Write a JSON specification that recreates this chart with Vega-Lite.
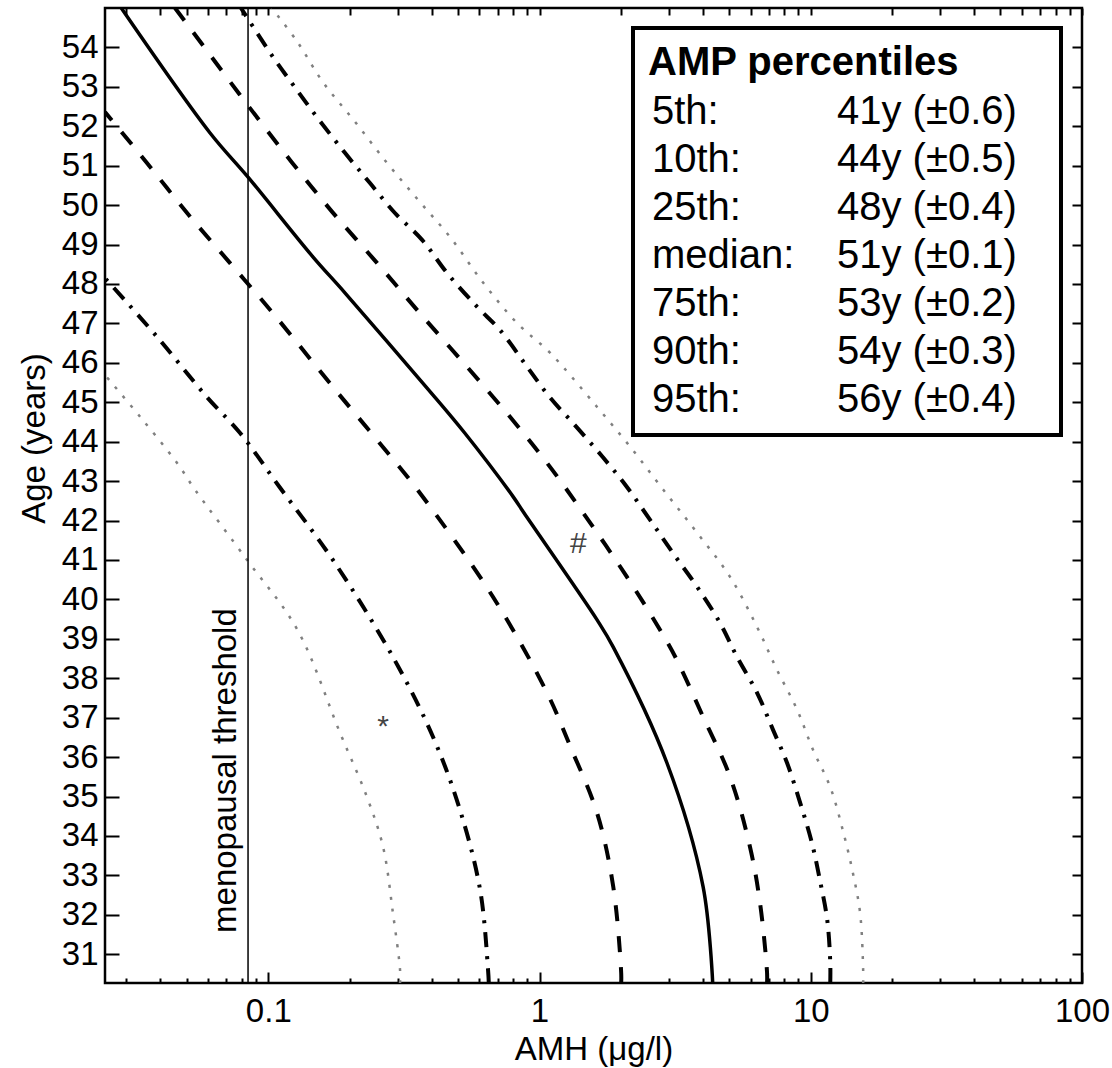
{
  "$schema": "https://vega.github.io/schema/vega-lite/v6.json",
  "width": 977,
  "height": 975,
  "autosize": "none",
  "padding": {"left": 105, "top": 8, "right": 30, "bottom": 85},
  "background": "white",
  "datasets": {
    "curves": [
      {"pct": "p5", "age": 30.27, "amh": 0.306}, {"pct": "p5", "age": 30.6, "amh": 0.306}, {"pct": "p5", "age": 32.05, "amh": 0.288}, {"pct": "p5", "age": 33.72, "amh": 0.265}, {"pct": "p5", "age": 34.99, "amh": 0.231}, {"pct": "p5", "age": 36.61, "amh": 0.184}, {"pct": "p5", "age": 39.23, "amh": 0.128}, {"pct": "p5", "age": 41.0, "amh": 0.0835}, {"pct": "p5", "age": 42.78, "amh": 0.0537}, {"pct": "p5", "age": 43.46, "amh": 0.0461}, {"pct": "p5", "age": 44.63, "amh": 0.0337}, {"pct": "p5", "age": 45.69, "amh": 0.025},
      {"pct": "p10", "age": 30.27, "amh": 0.65}, {"pct": "p10", "age": 30.6, "amh": 0.646}, {"pct": "p10", "age": 32.63, "amh": 0.604}, {"pct": "p10", "age": 34.66, "amh": 0.509}, {"pct": "p10", "age": 36.51, "amh": 0.405}, {"pct": "p10", "age": 38.54, "amh": 0.288}, {"pct": "p10", "age": 41.0, "amh": 0.173}, {"pct": "p10", "age": 42.85, "amh": 0.11}, {"pct": "p10", "age": 44.22, "amh": 0.0787}, {"pct": "p10", "age": 45.13, "amh": 0.0594}, {"pct": "p10", "age": 46.66, "amh": 0.0389}, {"pct": "p10", "age": 48.15, "amh": 0.025},
      {"pct": "p25", "age": 30.27, "amh": 2.0}, {"pct": "p25", "age": 30.53, "amh": 2.0}, {"pct": "p25", "age": 32.71, "amh": 1.87}, {"pct": "p25", "age": 34.58, "amh": 1.63}, {"pct": "p25", "age": 36.26, "amh": 1.3}, {"pct": "p25", "age": 37.63, "amh": 1.066}, {"pct": "p25", "age": 40.06, "amh": 0.674}, {"pct": "p25", "age": 42.8, "amh": 0.353}, {"pct": "p25", "age": 44.04, "amh": 0.252}, {"pct": "p25", "age": 45.39, "amh": 0.173}, {"pct": "p25", "age": 47.26, "amh": 0.104}, {"pct": "p25", "age": 48.53, "amh": 0.0723}, {"pct": "p25", "age": 49.8, "amh": 0.0502}, {"pct": "p25", "age": 51.07, "amh": 0.0357}, {"pct": "p25", "age": 52.36, "amh": 0.025},
      {"pct": "p50", "age": 30.27, "amh": 4.35}, {"pct": "p50", "age": 32.71, "amh": 4.01}, {"pct": "p50", "age": 35.85, "amh": 2.95}, {"pct": "p50", "age": 38.79, "amh": 1.87}, {"pct": "p50", "age": 39.48, "amh": 1.63}, {"pct": "p50", "age": 42.19, "amh": 0.877}, {"pct": "p50", "age": 42.6, "amh": 0.8}, {"pct": "p50", "age": 44.22, "amh": 0.53}, {"pct": "p50", "age": 45.36, "amh": 0.385}, {"pct": "p50", "age": 47.77, "amh": 0.192}, {"pct": "p50", "age": 48.69, "amh": 0.146}, {"pct": "p50", "age": 50.71, "amh": 0.0842}, {"pct": "p50", "age": 51.83, "amh": 0.061}, {"pct": "p50", "age": 55.0, "amh": 0.0287},
      {"pct": "p75", "age": 30.27, "amh": 6.9}, {"pct": "p75", "age": 30.53, "amh": 6.9}, {"pct": "p75", "age": 32.3, "amh": 6.5}, {"pct": "p75", "age": 33.72, "amh": 5.97}, {"pct": "p75", "age": 35.5, "amh": 5.04}, {"pct": "p75", "age": 37.02, "amh": 4.01}, {"pct": "p75", "age": 38.46, "amh": 3.21}, {"pct": "p75", "age": 39.23, "amh": 2.78}, {"pct": "p75", "age": 40.57, "amh": 2.1}, {"pct": "p75", "age": 42.19, "amh": 1.45}, {"pct": "p75", "age": 43.46, "amh": 1.066}, {"pct": "p75", "age": 44.63, "amh": 0.778}, {"pct": "p75", "age": 45.9, "amh": 0.54}, {"pct": "p75", "age": 47.26, "amh": 0.362}, {"pct": "p75", "age": 48.53, "amh": 0.252}, {"pct": "p75", "age": 49.83, "amh": 0.172}, {"pct": "p75", "age": 51.09, "amh": 0.122}, {"pct": "p75", "age": 52.46, "amh": 0.0856}, {"pct": "p75", "age": 53.81, "amh": 0.061}, {"pct": "p75", "age": 55.0, "amh": 0.0453},
      {"pct": "p90", "age": 30.27, "amh": 11.8}, {"pct": "p90", "age": 30.78, "amh": 11.8}, {"pct": "p90", "age": 31.87, "amh": 11.5}, {"pct": "p90", "age": 32.89, "amh": 10.8}, {"pct": "p90", "age": 33.82, "amh": 10.1}, {"pct": "p90", "age": 34.84, "amh": 9.14}, {"pct": "p90", "age": 35.85, "amh": 8.18}, {"pct": "p90", "age": 36.69, "amh": 7.26}, {"pct": "p90", "age": 37.63, "amh": 6.34}, {"pct": "p90", "age": 38.54, "amh": 5.35}, {"pct": "p90", "age": 39.4, "amh": 4.63}, {"pct": "p90", "age": 40.32, "amh": 3.81}, {"pct": "p90", "age": 41.18, "amh": 3.1}, {"pct": "p90", "age": 42.01, "amh": 2.56}, {"pct": "p90", "age": 42.85, "amh": 2.1}, {"pct": "p90", "age": 43.61, "amh": 1.71}, {"pct": "p90", "age": 44.37, "amh": 1.37}, {"pct": "p90", "age": 45.13, "amh": 1.09}, {"pct": "p90", "age": 45.9, "amh": 0.9}, {"pct": "p90", "age": 46.83, "amh": 0.715}, {"pct": "p90", "age": 47.42, "amh": 0.589}, {"pct": "p90", "age": 48.28, "amh": 0.456}, {"pct": "p90", "age": 49.12, "amh": 0.369}, {"pct": "p90", "age": 49.8, "amh": 0.293}, {"pct": "p90", "age": 50.56, "amh": 0.237}, {"pct": "p90", "age": 51.32, "amh": 0.192}, {"pct": "p90", "age": 52.21, "amh": 0.152}, {"pct": "p90", "age": 53.0, "amh": 0.125}, {"pct": "p90", "age": 53.76, "amh": 0.104}, {"pct": "p90", "age": 55.0, "amh": 0.0793},
      {"pct": "p95", "age": 30.27, "amh": 15.6}, {"pct": "p95", "age": 30.6, "amh": 15.6}, {"pct": "p95", "age": 32.05, "amh": 15.2}, {"pct": "p95", "age": 33.06, "amh": 14.3}, {"pct": "p95", "age": 34.08, "amh": 13.2}, {"pct": "p95", "age": 35.24, "amh": 11.8}, {"pct": "p95", "age": 36.18, "amh": 10.2}, {"pct": "p95", "age": 37.2, "amh": 8.91}, {"pct": "p95", "age": 38.21, "amh": 7.51}, {"pct": "p95", "age": 39.3, "amh": 6.34}, {"pct": "p95", "age": 40.57, "amh": 5.04}, {"pct": "p95", "age": 41.69, "amh": 3.81}, {"pct": "p95", "age": 42.78, "amh": 2.86}, {"pct": "p95", "age": 43.87, "amh": 2.16}, {"pct": "p95", "age": 44.88, "amh": 1.63}, {"pct": "p95", "age": 45.9, "amh": 1.22}, {"pct": "p95", "age": 46.33, "amh": 1.066}, {"pct": "p95", "age": 47.01, "amh": 0.826}, {"pct": "p95", "age": 48.03, "amh": 0.62}, {"pct": "p95", "age": 49.19, "amh": 0.468}, {"pct": "p95", "age": 50.13, "amh": 0.357}, {"pct": "p95", "age": 51.07, "amh": 0.274}, {"pct": "p95", "age": 52.11, "amh": 0.209}, {"pct": "p95", "age": 53.12, "amh": 0.159}, {"pct": "p95", "age": 54.14, "amh": 0.128}, {"pct": "p95", "age": 55.0, "amh": 0.103}
    ],
    "notes": [
      {"label": "#", "amh": 1.39, "age": 41.17},
      {"label": "*", "amh": 0.265, "age": 36.54}
    ],
    "threshold": [
      {"label": "menopausal threshold", "amh": 0.0842, "age": 31.54}
    ],
    "legend": [
      {"entry": "5th:"}, {"entry": "10th:"}, {"entry": "25th:"}, {"entry": "median:"}, {"entry": "75th:"}, {"entry": "90th:"}, {"entry": "95th:"},
      {"entry": "41y (±0.6)"}, {"entry": "44y (±0.5)"}, {"entry": "48y (±0.4)"}, {"entry": "51y (±0.1)"}, {"entry": "53y (±0.2)"}, {"entry": "54y (±0.3)"}, {"entry": "56y (±0.4)"}
    ]
  },
  "resolve": {"axis": {"x": "independent", "y": "independent"}},
  "layer": [
    {
      "data": {"name": "curves"},
      "transform": [{"filter": "datum.pct === 'p50'"}],
      "mark": {"type": "line", "clip": true, "color": "black", "strokeWidth": 3.5, "interpolate": "catmull-rom"},
      "encoding": {
        "x": {"field": "amh", "type": "quantitative", "scale": {"type": "log", "domain": [0.025, 100], "nice": false},
              "axis": {"orient": "bottom", "values": [0.1, 1, 10, 100], "format": "~g", "title": "AMH (μg/l)", "tickSize": -11, "labelPadding": 23, "titlePadding": 5}},
        "y": {"field": "age", "type": "quantitative", "scale": {"domain": [30.27, 55], "nice": false, "zero": false},
              "axis": {"orient": "left", "values": [31,32,33,34,35,36,37,38,39,40,41,42,43,44,45,46,47,48,49,50,51,52,53,54], "title": "Age (years)", "tickSize": -14, "labelPadding": 21, "titlePadding": 10, "titleY": 430}},
        "order": {"field": "age", "type": "quantitative"}
      }
    },
    {
      "data": {"name": "curves"},
      "transform": [{"filter": "datum.pct === 'p25' || datum.pct === 'p75'"}],
      "mark": {"type": "line", "clip": true, "color": "black", "strokeWidth": 4, "strokeDash": [16, 15], "interpolate": "catmull-rom"},
      "encoding": {
        "x": {"field": "amh", "type": "quantitative", "scale": {"type": "log", "domain": [0.025, 100], "nice": false},
              "axis": {"orient": "top", "values": [0.03,0.04,0.05,0.06,0.07,0.08,0.09,0.1,0.2,0.3,0.4,0.5,0.6,0.7,0.8,0.9,1,2,3,4,5,6,7,8,9,10,20,30,40,50,60,70,80,90,100], "labels": false, "title": null, "tickSize": -7}},
        "y": {"field": "age", "type": "quantitative", "scale": {"domain": [30.27, 55], "nice": false, "zero": false},
              "axis": {"orient": "right", "values": [31,32,33,34,35,36,37,38,39,40,41,42,43,44,45,46,47,48,49,50,51,52,53,54], "labels": false, "title": null, "tickSize": -10}},
        "detail": {"field": "pct"},
        "order": {"field": "age", "type": "quantitative"}
      }
    },
    {
      "data": {"name": "curves"},
      "transform": [{"filter": "datum.pct === 'p10' || datum.pct === 'p90'"}],
      "mark": {"type": "line", "clip": true, "color": "black", "strokeWidth": 4, "strokeDash": [15, 9, 3, 9], "interpolate": "catmull-rom"},
      "encoding": {
        "x": {"field": "amh", "type": "quantitative", "scale": {"type": "log", "domain": [0.025, 100], "nice": false},
              "axis": {"orient": "bottom", "values": [0.03,0.04,0.05,0.06,0.07,0.08,0.09,0.2,0.3,0.4,0.5,0.6,0.7,0.8,0.9,2,3,4,5,6,7,8,9,20,30,40,50,60,70,80,90], "labels": false, "title": null, "tickSize": -5}},
        "y": {"field": "age", "type": "quantitative", "scale": {"domain": [30.27, 55], "nice": false, "zero": false}, "axis": null},
        "detail": {"field": "pct"},
        "order": {"field": "age", "type": "quantitative"}
      }
    },
    {
      "data": {"name": "curves"},
      "transform": [{"filter": "datum.pct === 'p5' || datum.pct === 'p95'"}],
      "mark": {"type": "line", "clip": true, "color": "#808080", "strokeWidth": 2.5, "strokeDash": [3, 9], "interpolate": "catmull-rom"},
      "encoding": {
        "x": {"field": "amh", "type": "quantitative", "scale": {"type": "log", "domain": [0.025, 100], "nice": false}, "axis": null},
        "y": {"field": "age", "type": "quantitative", "scale": {"domain": [30.27, 55], "nice": false, "zero": false}, "axis": null},
        "detail": {"field": "pct"},
        "order": {"field": "age", "type": "quantitative"}
      }
    },
    {
      "data": {"name": "threshold"},
      "mark": {"type": "rule", "color": "black", "strokeWidth": 1.5},
      "encoding": {
        "x": {"field": "amh", "type": "quantitative", "scale": {"type": "log", "domain": [0.025, 100], "nice": false}, "axis": null}
      }
    },
    {
      "data": {"name": "threshold"},
      "mark": {"type": "text", "angle": 270, "align": "left", "baseline": "bottom", "dy": -5, "fontSize": 33, "color": "black"},
      "encoding": {
        "x": {"field": "amh", "type": "quantitative", "scale": {"type": "log", "domain": [0.025, 100], "nice": false}, "axis": null},
        "y": {"field": "age", "type": "quantitative", "scale": {"domain": [30.27, 55], "nice": false, "zero": false}, "axis": null},
        "text": {"field": "label"}
      }
    },
    {
      "data": {"name": "notes"},
      "mark": {"type": "text", "align": "center", "baseline": "alphabetic", "fontSize": 30, "color": "#444444"},
      "encoding": {
        "x": {"field": "amh", "type": "quantitative", "scale": {"type": "log", "domain": [0.025, 100], "nice": false}, "axis": null},
        "y": {"field": "age", "type": "quantitative", "scale": {"domain": [30.27, 55], "nice": false, "zero": false}, "axis": null},
        "text": {"field": "label"}
      }
    },
    {
      "data": {"name": "legend"},
      "mark": {"type": "point", "opacity": 0, "size": 0},
      "encoding": {
        "shape": {"field": "entry", "type": "nominal", "sort": null,
          "legend": {"title": "AMP percentiles", "orient": "none", "legendX": 528, "legendY": 20, "columns": 2,
                     "padding": 15, "strokeColor": "black", "fillColor": "white",
                     "titleFontSize": 40, "titleFontWeight": "bold", "titleColor": "black", "titlePadding": 9, "titleLimit": 600, "titleFont": "Liberation Sans",
                     "labelFontSize": 40, "labelColor": "black", "labelFont": "Liberation Sans", "labelLimit": 600,
                     "labelExpr": "indexof(datum.label, 'y') > 0 ? datum.label + '\u2800' : datum.label + '  '",
                     "rowPadding": 8, "columnPadding": 38, "symbolSize": 0, "symbolOpacity": 0, "symbolStrokeWidth": 0, "labelOffset": -36}}
      }
    }
  ],
  "config": {
    "view": {"stroke": "black", "strokeWidth": 2.5},
    "font": "Liberation Sans",
    "legend": {"strokeWidth": 4},
    "axis": {"labelFont": "Liberation Sans", "titleFont": "Liberation Sans", "labelColor": "black", "titleColor": "black", "tickColor": "black", "tickWidth": 2,
             "grid": false, "domain": false, "labelFontSize": 33, "titleFontSize": 33, "titleFontWeight": "normal", "labelFlush": false, "labelOverlap": false}
  }
}
